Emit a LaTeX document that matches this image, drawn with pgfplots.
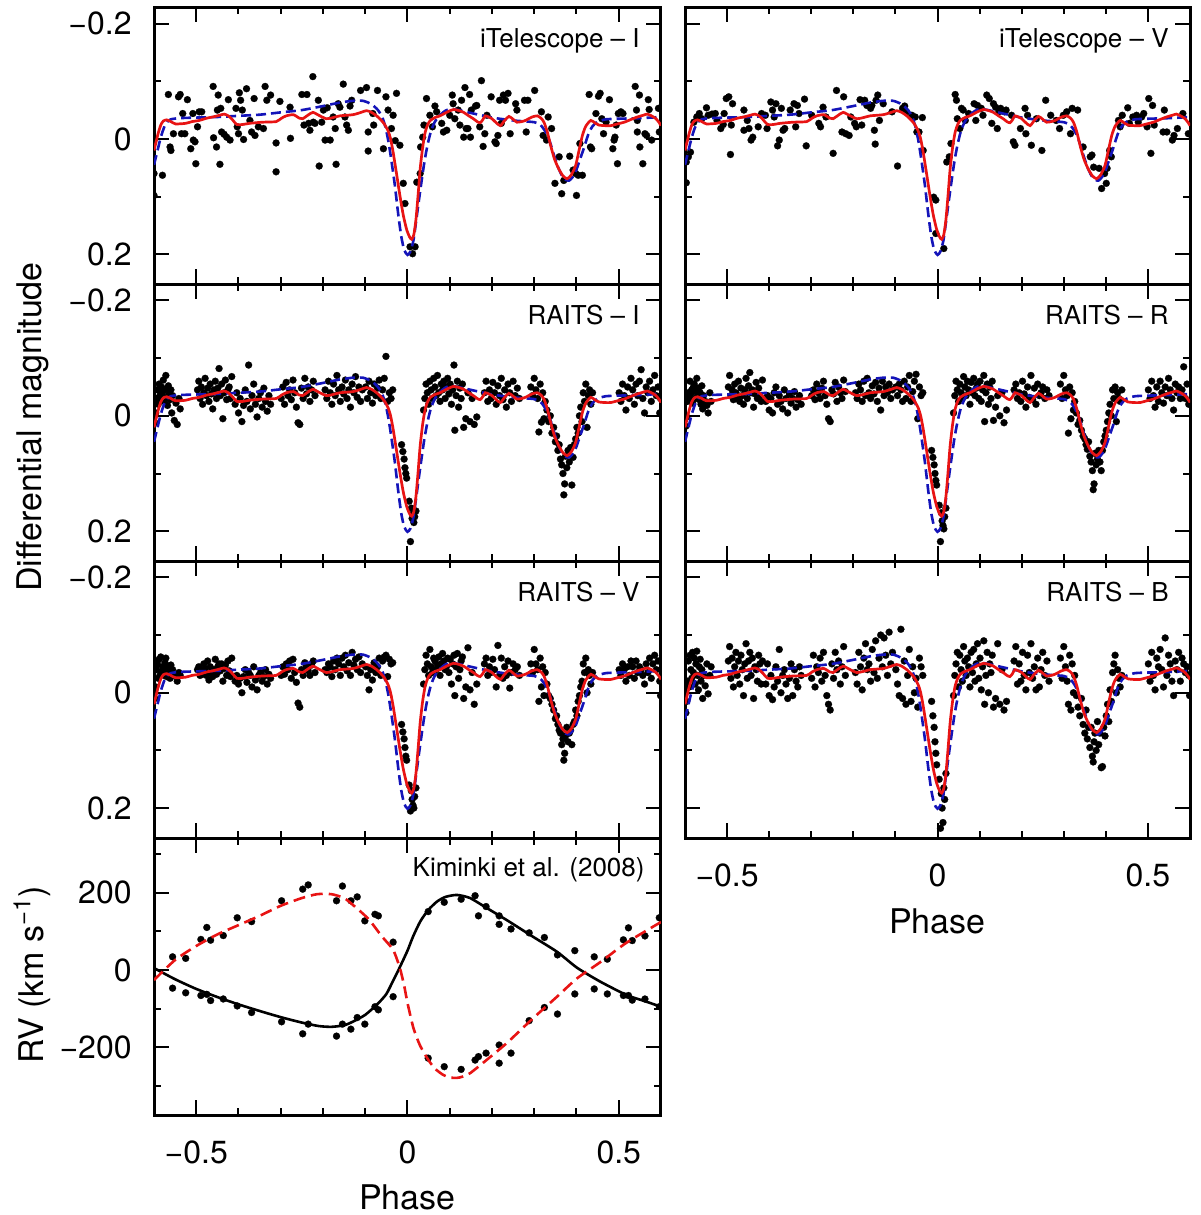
\documentclass[border=0pt]{standalone}
\usepackage{pgfplots}
\pgfplotsset{compat=1.18}
\usepackage{pgfplotstable}
\usepackage{fontspec}
\setmainfont{TeX Gyre Heros}
\definecolor{mred}{RGB}{232,20,20}
\definecolor{mblue}{RGB}{20,20,185}

\pgfplotstableread{
x y
-0.600 0.020
-0.595 0.005
-0.590 -0.010
-0.584 -0.024
-0.578 -0.031
-0.570 -0.033
-0.560 -0.030
-0.549 -0.026
-0.525 -0.027
-0.510 -0.030
-0.493 -0.032
-0.475 -0.036
-0.461 -0.038
-0.445 -0.041
-0.434 -0.043
-0.424 -0.040
-0.414 -0.033
-0.404 -0.025
-0.390 -0.025
-0.374 -0.027
-0.343 -0.029
-0.311 -0.030
-0.298 -0.036
-0.287 -0.040
-0.270 -0.042
-0.256 -0.036
-0.248 -0.035
-0.236 -0.041
-0.224 -0.046
-0.210 -0.041
-0.192 -0.035
-0.176 -0.037
-0.160 -0.040
-0.129 -0.042
-0.110 -0.046
-0.097 -0.049
-0.085 -0.046
-0.073 -0.040
-0.063 -0.033
-0.055 -0.026
-0.046 -0.014
-0.040 0.000
-0.034 0.023
-0.026 0.060
-0.018 0.098
-0.010 0.132
-0.002 0.157
0.005 0.170
0.010 0.174
0.015 0.166
0.020 0.140
0.025 0.098
0.030 0.052
0.036 0.014
0.042 -0.012
0.048 -0.025
0.054 -0.032
0.065 -0.037
0.077 -0.040
0.095 -0.047
0.109 -0.051
0.122 -0.049
0.133 -0.046
0.145 -0.040
0.156 -0.035
0.165 -0.030
0.172 -0.028
0.178 -0.033
0.184 -0.040
0.192 -0.038
0.200 -0.035
0.210 -0.028
0.220 -0.023
0.230 -0.032
0.240 -0.039
0.250 -0.034
0.259 -0.029
0.270 -0.030
0.279 -0.032
0.295 -0.038
0.307 -0.040
0.316 -0.036
0.323 -0.029
0.331 -0.012
0.339 0.012
0.348 0.035
0.358 0.052
0.368 0.064
0.378 0.069
0.388 0.062
0.398 0.046
0.406 0.020
0.414 -0.006
0.422 -0.022
0.434 -0.032
0.445 -0.027
0.453 -0.024
0.467 -0.023
0.481 -0.023
0.497 -0.026
0.513 -0.029
0.530 -0.034
0.544 -0.038
0.558 -0.041
0.568 -0.043
0.580 -0.039
0.588 -0.035
0.595 -0.029
0.600 -0.023
}\redmodel

\pgfplotstableread{
x y
-0.600 0.045
-0.595 0.030
-0.590 0.015
-0.585 0.000
-0.580 -0.012
-0.575 -0.022
-0.568 -0.030
-0.560 -0.034
-0.540 -0.036
-0.500 -0.037
-0.450 -0.038
-0.400 -0.040
-0.350 -0.042
-0.300 -0.046
-0.250 -0.050
-0.200 -0.057
-0.160 -0.063
-0.130 -0.066
-0.105 -0.066
-0.085 -0.060
-0.070 -0.050
-0.060 -0.038
-0.052 -0.020
-0.045 0.005
-0.038 0.038
-0.030 0.080
-0.022 0.130
-0.015 0.168
-0.008 0.192
0.000 0.201
0.007 0.195
0.014 0.176
0.020 0.145
0.026 0.112
0.033 0.075
0.040 0.040
0.047 0.012
0.055 -0.012
0.065 -0.030
0.078 -0.042
0.090 -0.049
0.102 -0.052
0.120 -0.050
0.150 -0.045
0.200 -0.037
0.250 -0.032
0.300 -0.029
0.315 -0.024
0.327 -0.012
0.337 0.005
0.347 0.029
0.357 0.050
0.366 0.064
0.375 0.071
0.383 0.072
0.391 0.066
0.399 0.055
0.408 0.036
0.418 0.015
0.428 -0.008
0.438 -0.022
0.450 -0.030
0.470 -0.034
0.500 -0.035
0.550 -0.036
0.600 -0.038
}\bluemodel

\pgfplotstableread{
x y
-0.600 0.060
-0.600 0.098
-0.580 0.063
-0.566 -0.077
-0.562 0.014
-0.560 0.020
-0.554 -0.009
-0.542 -0.073
-0.538 -0.077
-0.535 -0.009
-0.532 -0.044
-0.527 -0.009
-0.521 -0.068
-0.513 0.017
-0.508 -0.044
-0.507 0.002
-0.503 0.005
-0.501 0.043
-0.497 -0.021
-0.493 -0.047
-0.487 -0.047
-0.460 -0.091
-0.459 -0.002
-0.452 0.014
-0.450 -0.050
-0.448 -0.076
-0.444 0.044
-0.442 -0.053
-0.440 -0.012
-0.434 -0.008
-0.428 -0.003
-0.424 -0.068
-0.420 0.002
-0.406 -0.053
-0.403 -0.021
-0.400 -0.009
-0.398 -0.080
-0.395 -0.067
-0.391 -0.050
-0.388 0.001
-0.381 -0.087
-0.373 -0.032
-0.369 -0.012
-0.363 -0.070
-0.361 -0.006
-0.353 -0.021
-0.341 -0.018
-0.337 -0.091
-0.333 -0.067
-0.324 -0.076
-0.311 0.007
-0.311 0.057
-0.302 -0.065
-0.278 -0.055
-0.277 -0.001
-0.250 -0.077
-0.245 -0.024
-0.238 -0.077
-0.234 -0.027
-0.231 -0.015
-0.224 -0.108
-0.223 -0.029
-0.219 -0.027
-0.211 -0.067
-0.209 0.047
-0.203 -0.029
-0.199 -0.050
-0.195 0.002
-0.190 -0.054
-0.183 0.002
-0.176 -0.038
-0.171 -0.018
-0.169 0.044
-0.164 -0.061
-0.160 -0.055
-0.152 -0.095
-0.148 -0.038
-0.144 -0.024
-0.140 -0.015
-0.136 -0.057
-0.132 -0.067
-0.111 -0.084
-0.097 -0.089
-0.093 -0.012
-0.093 0.021
-0.082 -0.044
-0.080 -0.024
-0.071 -0.084
-0.057 0.017
-0.051 -0.073
-0.046 -0.050
-0.038 -0.018
-0.034 -0.041
-0.029 0.003
-0.026 -0.079
-0.018 0.011
-0.010 0.077
-0.006 0.112
0.006 0.187
0.012 0.199
0.018 0.187
0.022 0.075
0.030 0.060
0.031 0.014
0.036 -0.003
0.039 -0.024
0.045 -0.070
0.053 -0.041
0.059 -0.021
0.065 -0.057
0.069 -0.047
0.081 -0.027
0.085 -0.012
0.093 -0.015
0.100 -0.041
0.106 -0.076
0.108 -0.061
0.112 -0.035
0.120 -0.050
0.124 -0.024
0.128 -0.067
0.133 -0.003
0.136 -0.089
0.139 -0.018
0.143 -0.018
0.147 -0.077
0.149 -0.003
0.151 -0.050
0.161 -0.057
0.164 -0.058
0.171 -0.021
0.175 -0.101
0.179 0.013
0.183 -0.009
0.188 -0.041
0.198 -0.073
0.207 0.005
0.210 0.008
0.214 -0.006
0.218 -0.067
0.222 -0.027
0.227 -0.076
0.232 -0.067
0.238 -0.079
0.243 -0.009
0.256 -0.061
0.259 -0.050
0.277 -0.067
0.281 -0.012
0.285 -0.067
0.301 -0.084
0.317 -0.047
0.321 -0.006
0.329 0.002
0.333 -0.038
0.341 -0.018
0.349 0.077
0.359 0.031
0.365 0.095
0.370 0.072
0.384 0.030
0.392 0.054
0.398 0.060
0.400 0.098
0.404 0.063
0.408 0.008
0.414 0.063
0.430 -0.077
0.433 0.014
0.436 0.017
0.446 -0.044
0.452 -0.074
0.456 -0.079
0.460 -0.035
0.464 -0.009
0.470 -0.029
0.478 -0.068
0.486 0.017
0.489 0.002
0.491 -0.003
0.494 -0.024
0.497 0.043
0.499 -0.044
0.505 -0.047
0.510 -0.044
0.539 -0.091
0.542 -0.050
0.544 -0.032
0.544 -0.012
0.549 -0.076
0.550 0.014
0.557 0.043
0.562 -0.009
0.566 -0.006
0.570 -0.068
0.572 -0.051
0.578 0.002
0.594 -0.053
0.596 -0.012
}\itelI

\pgfplotstableread{
x y
-0.597 0.040
-0.597 0.076
-0.592 0.031
-0.587 0.023
-0.579 -0.029
-0.572 -0.038
-0.566 -0.044
-0.560 -0.035
-0.549 -0.054
-0.545 -0.041
-0.536 -0.043
-0.528 -0.044
-0.524 -0.032
-0.515 -0.018
-0.509 -0.025
-0.507 -0.044
-0.502 -0.070
-0.496 -0.073
-0.492 0.027
-0.490 -0.024
-0.487 -0.061
-0.460 -0.050
-0.460 -0.015
-0.452 -0.032
-0.448 -0.018
-0.443 0.002
-0.439 -0.003
-0.426 -0.021
-0.418 -0.044
-0.409 -0.041
-0.405 -0.018
-0.396 -0.064
-0.392 -0.050
-0.388 -0.038
-0.384 -0.061
-0.380 0.012
-0.376 0.002
-0.371 -0.053
-0.367 -0.015
-0.363 -0.018
-0.350 -0.050
-0.341 -0.061
-0.337 -0.021
-0.333 -0.058
-0.329 -0.044
-0.316 -0.069
-0.312 0.012
-0.299 -0.041
-0.282 -0.027
-0.278 -0.021
-0.272 -0.055
-0.265 -0.038
-0.248 0.025
-0.240 -0.084
-0.227 -0.012
-0.223 -0.073
-0.218 -0.009
-0.210 -0.006
-0.206 -0.038
-0.197 -0.027
-0.193 -0.021
-0.184 -0.068
-0.180 -0.024
-0.173 -0.067
-0.168 -0.058
-0.159 -0.053
-0.156 -0.058
-0.150 -0.015
-0.148 0.009
-0.146 -0.067
-0.142 -0.076
-0.138 -0.032
-0.129 -0.061
-0.108 -0.047
-0.095 0.047
-0.083 -0.053
-0.078 -0.057
-0.074 -0.047
-0.061 -0.041
-0.053 -0.038
-0.049 -0.012
-0.044 -0.012
-0.036 -0.037
-0.034 0.020
-0.009 0.101
-0.004 0.106
-0.004 0.164
0.015 0.190
0.022 0.040
0.028 0.031
0.032 0.008
0.042 -0.077
0.045 -0.067
0.047 -0.035
0.053 -0.018
0.057 -0.053
0.061 -0.050
0.066 -0.032
0.074 -0.044
0.087 -0.061
0.091 -0.032
0.095 -0.058
0.104 -0.053
0.108 -0.041
0.117 -0.076
0.123 -0.070
0.129 -0.027
0.133 -0.061
0.138 -0.055
0.142 -0.018
0.146 -0.047
0.150 -0.053
0.159 -0.047
0.163 -0.050
0.176 -0.041
0.180 0.005
0.184 0.011
0.197 -0.018
0.208 -0.053
0.210 -0.009
0.214 -0.041
0.223 0.011
0.235 -0.035
0.248 0.020
0.257 -0.067
0.269 -0.041
0.282 -0.032
0.290 -0.018
0.299 -0.041
0.307 -0.047
0.316 -0.009
0.320 -0.053
0.333 -0.050
0.346 0.014
0.363 0.031
0.367 0.028
0.371 0.049
0.384 0.051
0.390 0.086
0.397 0.060
0.401 0.077
0.403 0.051
0.409 0.020
0.413 0.031
0.430 -0.032
0.434 -0.021
0.439 -0.041
0.452 -0.054
0.456 -0.027
0.464 -0.038
0.473 -0.041
0.477 -0.029
0.485 -0.038
0.490 -0.044
0.498 -0.021
0.502 -0.070
0.507 0.025
0.511 -0.058
0.515 -0.024
0.536 -0.012
0.539 -0.050
0.545 -0.012
0.558 0.002
0.562 -0.006
0.570 -0.018
0.583 -0.044
0.596 -0.009
}\itelV

\pgfplotstableread{
ph I R V B
-0.598 0.012 0.018 0.010 0.035
-0.596 -0.005 0.002 -0.010 0.015
-0.594 -0.030 -0.025 -0.040 -0.020
-0.592 -0.045 -0.040 -0.050 -0.055
-0.590 -0.020 -0.030 -0.025 -0.010
-0.588 -0.055 -0.060 -0.058 -0.065
-0.586 -0.035 -0.038 -0.030 -0.040
-0.584 -0.028 -0.045 -0.062 -0.025
-0.582 -0.050 -0.022 -0.035 -0.070
-0.580 -0.040 -0.050 -0.045 -0.035
-0.578 -0.062 -0.055 -0.040 -0.060
-0.576 -0.025 -0.030 -0.030 -0.015
-0.574 -0.045 -0.042 -0.052 -0.050
-0.572 -0.070 -0.065 -0.060 -0.072
-0.570 -0.032 -0.035 -0.028 -0.030
-0.568 -0.018 -0.048 -0.038 -0.005
-0.566 -0.052 -0.028 -0.045 -0.045
-0.564 -0.038 -0.040 -0.035 -0.058
-0.562 -0.028 -0.020 -0.025 -0.020
-0.560 -0.045 -0.052 -0.048 -0.040
-0.558 -0.005 -0.012 -0.030 0.010
-0.556 -0.035 -0.035 -0.040 -0.030
-0.552 0.008 -0.025 -0.032 -0.012
-0.548 -0.022 -0.018 -0.028 -0.050
-0.545 0.015 -0.005 -0.020 0.002
-0.541 -0.030 -0.040 -0.035 -0.030
-0.538 -0.012 -0.025 -0.030 -0.045
-0.497 -0.045 -0.050 -0.040 -0.055
-0.494 -0.060 -0.070 -0.045 -0.080
-0.491 -0.030 -0.035 -0.030 -0.025
-0.488 -0.050 -0.045 -0.038 -0.060
-0.485 -0.020 -0.028 -0.032 -0.010
-0.482 -0.040 -0.055 -0.050 -0.045
-0.479 -0.065 -0.040 -0.042 -0.070
-0.476 -0.035 -0.030 -0.030 -0.030
-0.473 -0.048 -0.060 -0.055 -0.055
-0.470 -0.025 -0.025 -0.022 -0.015
-0.467 -0.055 -0.048 -0.045 -0.065
-0.464 -0.038 -0.035 -0.035 -0.040
-0.461 -0.012 -0.020 -0.028 0.005
-0.458 -0.045 -0.045 -0.040 -0.050
-0.455 -0.060 -0.065 -0.058 -0.085
-0.452 -0.030 -0.030 -0.032 -0.025
-0.449 -0.048 -0.052 -0.045 -0.055
-0.446 -0.082 -0.075 -0.050 -0.070
-0.443 -0.035 -0.040 -0.038 -0.030
-0.440 -0.055 -0.045 -0.050 -0.060
-0.437 0.005 -0.015 -0.020 0.010
-0.434 -0.040 -0.038 -0.042 -0.045
-0.431 -0.062 -0.058 -0.048 -0.040
-0.428 -0.028 -0.030 -0.030 -0.020
-0.425 -0.045 -0.048 -0.055 -0.065
-0.422 -0.050 -0.035 -0.038 -0.050
-0.419 -0.030 -0.025 -0.028 -0.015
-0.416 -0.068 -0.062 -0.060 -0.055
-0.408 -0.020 -0.025 -0.020 -0.015
-0.404 -0.040 -0.035 -0.030 -0.050
-0.400 -0.005 -0.010 -0.015 0.005
-0.396 -0.030 -0.030 -0.025 -0.030
-0.392 0.010 -0.005 0.000 0.012
-0.388 -0.018 -0.040 -0.028 -0.010
-0.384 -0.045 -0.050 -0.040 -0.045
-0.380 -0.025 -0.020 -0.018 -0.020
-0.376 -0.088 -0.035 -0.035 -0.075
-0.372 -0.012 -0.025 -0.030 0.000
-0.368 -0.035 -0.012 -0.010 -0.030
-0.364 -0.055 -0.045 -0.045 -0.040
-0.360 -0.020 -0.030 -0.022 -0.015
-0.356 0.002 -0.005 -0.005 0.010
-0.352 -0.030 -0.038 -0.030 -0.025
-0.348 -0.040 -0.022 -0.035 -0.050
-0.344 -0.015 -0.030 -0.020 0.005
-0.340 -0.048 -0.042 -0.028 -0.040
-0.336 -0.025 -0.015 -0.040 -0.020
-0.332 -0.008 -0.028 -0.015 -0.010
-0.328 -0.035 -0.035 -0.032 -0.045
-0.324 -0.020 -0.020 -0.025 -0.030
-0.299 -0.030 -0.035 -0.030 -0.025
-0.295 -0.050 -0.045 -0.045 -0.065
-0.291 -0.020 -0.028 -0.032 -0.010
-0.287 -0.058 -0.055 -0.050 -0.045
-0.283 -0.035 -0.040 -0.040 -0.035
-0.279 -0.045 -0.030 -0.055 -0.060
-0.275 -0.028 -0.048 -0.025 -0.020
-0.271 -0.062 -0.060 -0.058 -0.070
-0.267 -0.040 -0.035 -0.035 -0.030
-0.263 -0.015 -0.020 -0.018 0.005
-0.259 0.012 0.005 0.018 0.020
-0.255 0.015 0.010 0.025 0.030
-0.251 -0.048 -0.045 -0.040 -0.050
-0.247 -0.030 -0.038 -0.030 -0.025
-0.243 -0.065 -0.058 -0.052 -0.070
-0.239 -0.038 -0.025 -0.045 -0.040
-0.235 -0.050 -0.050 -0.038 -0.055
-0.231 -0.025 -0.040 -0.030 -0.015
-0.227 -0.045 -0.030 -0.048 -0.045
-0.223 -0.060 -0.062 -0.055 -0.080
-0.219 -0.035 -0.042 -0.035 -0.030
-0.195 -0.045 -0.040 -0.040 -0.035
-0.191 -0.030 -0.030 -0.035 -0.015
-0.187 -0.060 -0.055 -0.050 -0.070
-0.183 -0.040 -0.045 -0.045 -0.045
-0.179 -0.020 -0.025 -0.028 -0.005
-0.175 -0.055 -0.060 -0.055 -0.060
-0.171 -0.035 -0.035 -0.040 -0.085
-0.167 -0.070 -0.065 -0.060 -0.040
-0.163 -0.045 -0.040 -0.050 -0.050
-0.159 -0.025 -0.030 -0.030 -0.020
-0.155 -0.050 -0.052 -0.060 -0.075
-0.151 -0.038 -0.038 -0.045 -0.035
-0.147 -0.062 -0.058 -0.065 -0.090
-0.143 -0.030 -0.025 -0.038 -0.025
-0.139 -0.045 -0.048 -0.052 -0.060
-0.135 -0.015 -0.010 -0.030 -0.100
-0.131 -0.055 -0.060 -0.070 -0.045
-0.127 -0.040 -0.035 -0.048 -0.095
-0.123 -0.068 -0.050 -0.058 -0.065
-0.119 -0.032 -0.040 -0.040 -0.030
-0.115 -0.050 -0.055 -0.062 -0.105
-0.111 -0.025 -0.030 -0.035 -0.050
-0.107 -0.045 -0.045 -0.050 -0.070
-0.099 -0.050 -0.050 -0.045 -0.040
-0.095 -0.030 -0.035 -0.030 -0.015
-0.091 -0.060 -0.055 -0.005 0.005
-0.087 -0.040 -0.045 -0.040 -0.110
-0.083 -0.022 -0.025 -0.022 0.010
-0.079 -0.055 -0.060 -0.052 -0.055
-0.075 -0.035 -0.030 -0.035 0.020
-0.071 -0.048 -0.050 -0.045 -0.030
-0.067 -0.062 -0.070 -0.060 -0.075
-0.063 -0.030 -0.025 -0.030 0.015
-0.059 -0.045 -0.042 -0.055 -0.045
-0.055 -0.065 -0.060 -0.062 0.000
-0.051 -0.103 -0.072 -0.065 -0.025
-0.047 -0.025 0.005 -0.028 0.025
-0.043 -0.040 -0.050 -0.058 -0.060
-0.039 -0.030 -0.035 -0.050 -0.045
-0.035 -0.045 -0.040 -0.052 -0.030
-0.014 0.050 0.060 0.055 0.015
-0.011 0.062 0.072 0.068 0.040
-0.008 0.075 0.085 0.080 0.060
-0.006 0.090 0.100 0.095 0.085
-0.004 0.100 0.112 0.110 0.105
-0.002 0.108 0.120 0.117 0.125
0.004 0.148 0.155 0.160 0.150
0.007 0.218 0.218 0.205 0.235
0.009 0.160 0.168 0.170 0.175
0.011 0.178 0.182 0.185 0.200
0.013 0.170 0.190 0.195 0.225
0.015 0.185 0.196 0.200 0.165
0.017 0.175 0.175 0.180 0.185
0.020 0.165 0.160 0.165 0.140
0.038 -0.010 -0.005 -0.015 0.005
0.041 -0.030 -0.035 -0.040 -0.030
0.044 -0.055 -0.060 -0.065 -0.050
0.047 -0.040 -0.045 -0.050 -0.070
0.050 -0.020 -0.025 -0.030 -0.010
0.053 -0.060 -0.055 -0.075 -0.065
0.056 -0.045 -0.040 -0.045 -0.040
0.059 -0.030 -0.030 -0.035 -0.020
0.062 -0.065 -0.068 -0.060 -0.080
0.065 -0.050 -0.050 -0.055 -0.055
0.068 -0.035 -0.035 -0.040 -0.030
0.071 -0.070 -0.060 -0.048 -0.060
0.074 -0.040 -0.045 -0.062 -0.045
0.077 -0.025 -0.020 -0.030 -0.010
0.080 -0.055 -0.058 -0.050 -0.070
0.083 -0.045 -0.040 -0.068 -0.035
0.086 -0.060 -0.065 -0.055 -0.075
0.089 -0.030 -0.035 -0.040 -0.020
0.092 -0.050 -0.048 -0.045 -0.050
0.095 -0.065 -0.055 -0.060 -0.085
0.098 -0.038 -0.030 -0.035 -0.025
0.101 -0.055 -0.060 -0.058 -0.060
0.104 -0.020 -0.025 -0.015 -0.005
0.107 -0.045 -0.045 -0.050 -0.045
0.110 -0.088 -0.070 -0.065 -0.090
0.112 0.025 0.010 0.005 0.020
0.115 -0.035 -0.040 -0.045 -0.030
0.118 -0.060 -0.055 -0.068 -0.070
0.121 -0.015 -0.020 -0.025 0.000
0.124 -0.048 -0.050 -0.040 -0.050
0.127 -0.030 -0.030 -0.055 -0.035
0.130 -0.055 -0.060 -0.062 -0.065
0.133 0.020 0.008 0.010 0.025
0.138 0.005 -0.015 -0.010 0.010
0.143 -0.040 -0.035 -0.078 -0.085
0.148 0.010 0.000 -0.005 0.020
0.153 -0.030 -0.040 -0.035 -0.040
0.158 0.015 0.012 0.020 0.030
0.164 0.002 -0.010 -0.015 0.015
0.182 -0.040 -0.045 -0.050 -0.055
0.186 -0.060 -0.055 -0.060 -0.080
0.190 -0.025 -0.030 -0.030 -0.015
0.194 -0.045 -0.040 -0.045 -0.050
0.198 -0.030 -0.025 -0.035 -0.020
0.202 -0.058 -0.060 -0.058 -0.070
0.206 -0.040 -0.038 -0.040 -0.030
0.210 -0.020 -0.015 -0.010 -0.005
0.214 -0.052 -0.050 -0.082 -0.065
0.218 -0.035 -0.032 -0.030 -0.035
0.222 -0.065 -0.070 -0.060 -0.085
0.226 -0.028 -0.028 -0.025 -0.025
0.230 -0.045 -0.048 -0.045 -0.045
0.234 -0.015 -0.020 -0.030 -0.005
0.238 -0.055 -0.055 -0.055 -0.060
0.242 -0.040 -0.035 -0.008 -0.010
0.246 -0.025 -0.040 -0.035 -0.040
0.250 -0.060 -0.050 -0.050 -0.070
0.255 -0.035 -0.030 -0.040 -0.030
0.260 -0.048 -0.045 -0.045 -0.055
0.265 -0.030 -0.035 -0.030 -0.020
0.292 -0.050 -0.055 -0.050 -0.060
0.296 -0.035 -0.030 -0.035 -0.025
0.300 -0.065 -0.070 -0.075 -0.080
0.304 -0.045 -0.045 -0.050 -0.045
0.308 -0.030 -0.035 -0.040 -0.020
0.311 0.028 0.030 0.015 0.020
0.314 -0.055 -0.050 -0.060 -0.065
0.317 0.011 0.005 -0.010 0.030
0.320 -0.040 -0.040 -0.045 -0.050
0.323 0.005 -0.010 0.005 0.000
0.326 -0.025 -0.025 -0.035 -0.030
0.330 -0.010 -0.005 -0.015 0.005
0.334 0.010 0.015 0.005 0.025
0.338 0.000 0.008 0.010 0.040
0.342 0.030 0.025 0.020 0.010
0.346 0.020 0.035 0.030 0.055
0.350 0.045 0.040 0.045 0.070
0.353 0.035 0.050 0.040 0.030
0.356 0.060 0.058 0.055 0.080
0.359 0.050 0.045 0.065 0.060
0.362 0.075 0.070 0.070 0.095
0.365 0.085 0.080 0.090 0.060
0.368 0.100 0.095 0.080 0.110
0.370 0.137 0.128 0.117 0.120
0.372 0.118 0.118 0.105 0.085
0.374 0.070 0.065 0.075 0.070
0.377 0.090 0.085 0.060 0.100
0.380 0.060 0.075 0.085 0.050
0.383 0.080 0.060 0.070 0.090
0.386 0.055 0.080 0.065 0.070
0.389 0.120 0.095 0.090 0.130
0.392 0.072 0.060 0.055 0.128
0.395 0.050 0.045 0.050 0.060
0.398 0.040 0.035 0.030 0.075
0.401 0.020 0.025 0.040 0.040
0.404 0.030 0.010 0.015 0.020
0.407 0.000 -0.005 0.005 0.050
0.410 -0.015 -0.020 -0.010 -0.005
0.413 0.010 0.000 -0.020 0.015
0.416 -0.040 -0.045 -0.050 -0.035
0.419 -0.025 -0.030 -0.035 -0.050
0.422 -0.055 -0.050 -0.060 -0.065
0.425 0.020 0.010 0.000 0.000
0.428 -0.035 -0.040 -0.040 -0.040
0.431 -0.045 -0.030 -0.030 -0.025
0.434 -0.020 -0.025 -0.015 -0.010
0.438 -0.040 -0.045 -0.035 -0.030
0.501 -0.040 -0.045 -0.040 -0.050
0.505 -0.025 -0.030 -0.030 -0.020
0.509 -0.055 -0.060 -0.050 -0.070
0.513 -0.035 -0.035 -0.040 -0.030
0.517 -0.010 -0.015 -0.020 -0.005
0.521 -0.050 -0.050 -0.045 -0.060
0.525 -0.030 -0.025 -0.030 -0.045
0.529 -0.065 -0.060 -0.055 -0.075
0.533 -0.045 -0.040 -0.045 -0.040
0.537 -0.020 -0.022 -0.025 -0.010
0.541 -0.055 -0.050 -0.055 -0.095
0.545 -0.035 -0.035 -0.035 -0.030
0.549 -0.060 -0.065 -0.045 -0.065
0.553 -0.080 -0.045 -0.040 -0.050
0.557 -0.030 -0.030 -0.030 -0.020
0.561 -0.005 -0.010 -0.015 0.005
0.565 -0.050 -0.055 -0.050 -0.055
0.569 -0.040 -0.040 -0.035 -0.040
0.573 -0.060 -0.050 -0.060 -0.070
0.577 -0.025 -0.030 -0.025 -0.020
0.581 -0.045 -0.045 -0.050 -0.060
0.585 -0.070 -0.085 -0.065 -0.050
0.589 -0.035 -0.030 -0.040 -0.035
0.593 -0.050 -0.055 -0.055 -0.045
0.597 -0.005 -0.020 -0.020 -0.030
0.599 -0.030 -0.025 0.005 0.005
}\raits

\pgfplotstableread{
x y
-0.600 5
-0.550 -24
-0.500 -49
-0.450 -70
-0.400 -89
-0.350 -106
-0.300 -122
-0.250 -136
-0.210 -145
-0.180 -147
-0.150 -143
-0.130 -134
-0.100 -116
-0.070 -87
-0.050 -62
-0.035 -30
-0.020 3
0.000 50
0.013 86
0.030 125
0.049 155
0.070 177
0.090 189
0.117 194
0.148 186
0.188 160
0.235 129
0.297 86
0.354 47
0.401 6
0.456 -30
0.519 -65
0.560 -80
0.600 -95
}\rvprim

\pgfplotstableread{
x y
-0.600 -26
-0.550 26
-0.500 62
-0.450 92
-0.400 116
-0.350 140
-0.300 166
-0.250 186
-0.214 196
-0.180 196
-0.150 186
-0.129 168
-0.110 150
-0.090 129
-0.060 86
-0.034 52
-0.018 5
-0.008 -40
0.000 -85
0.014 -150
0.030 -196
0.049 -232
0.065 -255
0.084 -271
0.100 -278
0.117 -279
0.130 -276
0.148 -267
0.188 -232
0.235 -189
0.297 -125
0.354 -69
0.401 -22
0.456 20
0.519 71
0.600 124
}\rvsec

\pgfplotstableread{
x y
-0.556 -47
-0.525 -59
-0.489 -66
-0.475 -63
-0.466 -79
-0.436 -75
-0.403 -93
-0.369 -110
-0.298 -134
-0.248 -165
-0.235 -140
-0.168 -171
-0.154 -140
-0.134 -153
-0.119 -123
-0.101 -140
-0.077 -95
-0.069 -103
-0.034 -69
-0.556 34
-0.525 30
-0.489 79
-0.475 110
-0.466 77
-0.436 89
-0.403 135
-0.369 125
-0.298 179
-0.248 209
-0.235 220
-0.168 179
-0.154 217
-0.134 179
-0.119 189
-0.101 127
-0.077 144
-0.069 140
-0.034 72
0.049 151
0.087 175
0.127 183
0.160 192
0.168 140
0.186 164
0.217 140
0.217 118
0.245 106
0.288 96
0.324 84
0.355 39
0.396 50
0.442 34
0.473 28
0.511 78
0.523 109
0.532 76
0.562 88
0.596 135
0.049 -228
0.087 -250
0.127 -257
0.160 -233
0.168 -224
0.186 -215
0.217 -194
0.217 -241
0.245 -215
0.288 -131
0.324 -97
0.355 -114
0.396 -62
0.442 -49
0.473 -62
0.511 -66
0.523 -66
0.532 -78
0.562 -75
0.596 -95
}\rvpts

\pgfplotsset{
  common/.style={
    scale only axis, anchor=south west, height=138.45pt,
    xmin=-0.6, xmax=0.6,
    xtick={-0.5,0,0.5}, minor xtick={-0.4,-0.3,-0.2,-0.1,0.1,0.2,0.3,0.4},
    xticklabels={}, yticklabels={},
    tick pos=both, tick align=inside,
    major tick length=7.5pt, minor tick length=3.5pt,
    tick style={black, line width=1pt},
    axis line style={line width=1.5pt},
    tick label style={font=\fontsize{16}{19}\selectfont, inner sep=0pt},
    xticklabel style={yshift=-12.5pt},
    yticklabel style={xshift=-11pt},
    clip marker paths=true,
  },
  lc/.style={common,
    ymin=-0.228, ymax=0.252, y dir=reverse,
    ytick={-0.2,0,0.2}, minor ytick={-0.1,0.1},
  },
  leftcol/.style={width=253.5pt},
  rightcol/.style={width=252.5pt},
  ylabs/.style={yticklabels={−0.2,0,0.2}},
  xlabs/.style={xticklabels={−0.5,0,0.5}},
  dots/.style={only marks, mark=*, mark size=1.75pt, black, mark options={line width=0.1pt}},
  redfit/.style={mred, line width=1.35pt, smooth, tension=0.4, mark=none},
  bluefit/.style={mblue, line width=1.3pt, dash pattern=on 5pt off 2.5pt, smooth, tension=0.4, mark=none},
}
\tikzset{
  plab/.style={anchor=base east, inner sep=0pt, xshift=-10.5pt, yshift=-20pt, font=\fontsize{13}{15}\selectfont},
}

\begin{document}
\begin{tikzpicture}
\useasboundingbox (0,0) rectangle (600pt,607.5pt);

% row 1
\begin{axis}[lc, leftcol, ylabs, at={(77pt,465.35pt)}]
\addplot[dots] table[x=x,y=y] {\itelI};
\addplot[bluefit] table[x=x,y=y] {\bluemodel};
\addplot[redfit] table[x=x,y=y] {\redmodel};
\node[plab] at (axis description cs:1,1) {iTelescope – I};
\end{axis}
\begin{axis}[lc, rightcol, at={(342.5pt,465.35pt)}]
\addplot[dots] table[x=x,y=y] {\itelV};
\addplot[bluefit] table[x=x,y=y] {\bluemodel};
\addplot[redfit] table[x=x,y=y] {\redmodel};
\node[plab] at (axis description cs:1,1) {iTelescope – V};
\end{axis}

% row 2
\begin{axis}[lc, leftcol, ylabs, at={(77pt,326.9pt)}]
\addplot[dots] table[x=ph,y=I] {\raits};
\addplot[bluefit] table[x=x,y=y] {\bluemodel};
\addplot[redfit] table[x=x,y=y] {\redmodel};
\node[plab] at (axis description cs:1,1) {RAITS – I};
\end{axis}
\begin{axis}[lc, rightcol, at={(342.5pt,326.9pt)}]
\addplot[dots] table[x=ph,y=R] {\raits};
\addplot[bluefit] table[x=x,y=y] {\bluemodel};
\addplot[redfit] table[x=x,y=y] {\redmodel};
\node[plab] at (axis description cs:1,1) {RAITS – R};
\end{axis}

% row 3
\begin{axis}[lc, leftcol, ylabs, at={(77pt,188.45pt)}]
\addplot[dots] table[x=ph,y=V] {\raits};
\addplot[bluefit] table[x=x,y=y] {\bluemodel};
\addplot[redfit] table[x=x,y=y] {\redmodel};
\node[plab] at (axis description cs:1,1) {RAITS – V};
\end{axis}
\begin{axis}[lc, rightcol, xlabs, at={(342.5pt,188.45pt)}]
\addplot[dots] table[x=ph,y=B] {\raits};
\addplot[bluefit] table[x=x,y=y] {\bluemodel};
\addplot[redfit] table[x=x,y=y] {\redmodel};
\node[plab] at (axis description cs:1,1) {RAITS – B};
\end{axis}

% RV panel
\begin{axis}[common, leftcol, xlabs, at={(77pt,50pt)},
  ymin=-375, ymax=341,
  ytick={-200,0,200}, minor ytick={-300,-100,100,300},
  yticklabels={−200,0,200}]
\addplot[dots] table[x=x,y=y] {\rvpts};
\addplot[black, line width=1.3pt, smooth, tension=0.4, mark=none] table[x=x,y=y] {\rvprim};
\addplot[mred, line width=1.3pt, dash pattern=on 6pt off 3pt, smooth, tension=0.4, mark=none] table[x=x,y=y] {\rvsec};
\node[plab, xshift=2.5pt, yshift=0.7pt] at (axis description cs:1,1) {Kiminki et al. (2008)};
\end{axis}

\node[rotate=90, anchor=base, inner sep=0pt, font=\fontsize{17}{20}\selectfont] at (21pt,394pt) {Differential magnitude};
\node[rotate=90, anchor=base, inner sep=0pt, font=\fontsize{17}{20}\selectfont] at (21.5pt,120pt) {RV (km s\textsuperscript{−1})};
\node[anchor=base, inner sep=0pt, font=\fontsize{17}{20}\selectfont] at (203.75pt,2.5pt) {Phase};
\node[anchor=base, inner sep=0pt, font=\fontsize{17}{20}\selectfont] at (468.75pt,140.5pt) {Phase};
\end{tikzpicture}
\end{document}
